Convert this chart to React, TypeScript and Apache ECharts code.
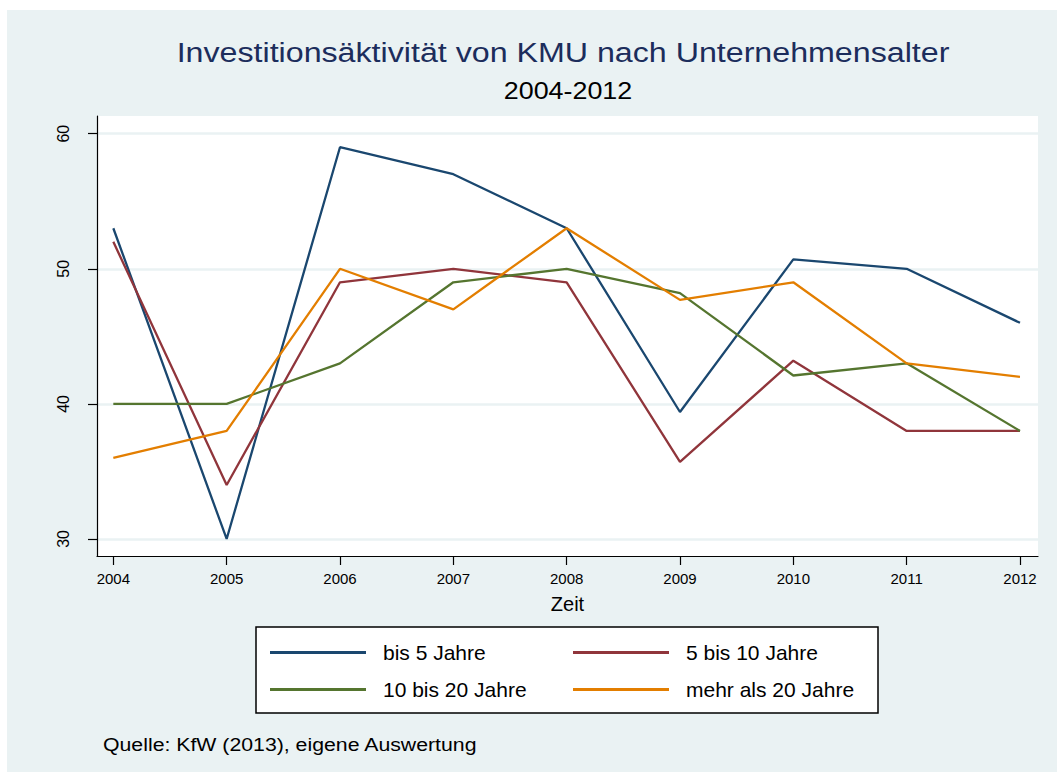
import React, { useEffect, useRef } from "react";
import * as echarts from "echarts";

const years = [2004, 2005, 2006, 2007, 2008, 2009, 2010, 2011, 2012];
const seriesNames = ["bis 5 Jahre", "5 bis 10 Jahre", "10 bis 20 Jahre", "mehr als 20 Jahre"];
const bis5 = [53, 30, 59, 57, 53, 39.4, 50.7, 50, 46];
const bis10 = [52, 34, 49, 50, 49, 35.7, 43.2, 38, 38];
const bis20 = [40, 40, 43, 49, 50, 48.2, 42.1, 43, 38];
const mehr20 = [36, 38, 50, 47, 53, 47.7, 49, 43, 42];
const yTicks = [30, 40, 50, 60];
const colors = ["#1a476f", "#90353b", "#55752f", "#e37e00"];

const FONT = "'Liberation Sans', Arial, sans-serif";

export default function App() {
  const ref = useRef<HTMLDivElement>(null);
  useEffect(() => {
    if (!ref.current) return;
    const chart = echarts.init(ref.current, null, { renderer: "svg" });
    const all = [bis5, bis10, bis20, mehr20];
    const legendBase = {
      orient: "vertical",
      top: 632,
      padding: 0,
      itemGap: 16,
      itemWidth: 96,
      itemHeight: 3,
      icon: "rect",
      textStyle: { fontSize: 21, color: "#000", fontFamily: FONT, padding: [0, 0, 0, 12] },
    };
    chart.setOption({
      animation: false,
      backgroundColor: "#eaf2f3",
      textStyle: { fontFamily: FONT },
      grid: {
        left: 90,
        top: 106,
        right: 19,
        bottom: 216,
        show: true,
        backgroundColor: "#ffffff",
        borderWidth: 0,
      },
      xAxis: {
        type: "value",
        min: 2003.856,
        max: 2012.159,
        name: "Zeit",
        nameLocation: "middle",
        nameGap: 38,
        nameTextStyle: { fontSize: 20, color: "#000", fontFamily: FONT },
        axisLine: { show: true, onZero: false, lineStyle: { color: "#000", width: 1.2 } },
        axisTick: { show: true, length: 9, customValues: years, lineStyle: { color: "#000", width: 1.2 } },
        axisLabel: {
          customValues: years,
          fontSize: 15,
          color: "#000",
          margin: 15,
          fontFamily: FONT,
          formatter: (v: number) => String(Math.round(v)),
        },
        splitLine: { show: false },
      },
      yAxis: {
        type: "value",
        min: 28.74,
        max: 61.31,
        axisLine: { show: true, lineStyle: { color: "#000", width: 1.2 } },
        axisTick: { show: true, length: 9, customValues: yTicks, lineStyle: { color: "#000", width: 1.2 } },
        axisLabel: { customValues: yTicks, fontSize: 16, color: "#000", rotate: 90, margin: 26, fontFamily: FONT },
        splitLine: { show: true, lineStyle: { color: "#eaf2f3", width: 2.5 } },
      },
      legend: [
        { ...legendBase, data: [seriesNames[0], seriesNames[2]], left: 263 },
        { ...legendBase, data: [seriesNames[1], seriesNames[3]], left: 566 },
      ],
      graphic: [
        {
          type: "rect",
          shape: { x: 249, y: 617, width: 622, height: 86 },
          style: { fill: "#ffffff", stroke: "#000", lineWidth: 1.5 },
          z: -1,
        },
        {
          type: "text",
          x: 556,
          y: 42,
          scaleX: 1.15,
          style: {
            text: "Investitionsäktivität von KMU nach Unternehmensalter",
            fontSize: 28,
            fontFamily: FONT,
            fill: "#1c2d5c",
            align: "center",
            verticalAlign: "middle",
          },
        },
        {
          type: "text",
          x: 561,
          y: 81,
          scaleX: 1.12,
          style: {
            text: "2004-2012",
            fontSize: 24,
            fontFamily: FONT,
            fill: "#000",
            align: "center",
            verticalAlign: "middle",
          },
        },
        {
          type: "text",
          x: 96,
          y: 734,
          scaleX: 1.12,
          style: {
            text: "Quelle: KfW (2013), eigene Auswertung",
            fontSize: 19,
            fontFamily: FONT,
            fill: "#000",
            align: "left",
            verticalAlign: "middle",
          },
        },
      ],
      series: all.map((vals, i) => ({
        name: seriesNames[i],
        type: "line",
        data: years.map((y, j) => [y, vals[j]]),
        showSymbol: false,
        symbol: "none",
        color: colors[i],
        lineStyle: { color: colors[i], width: 2.3 },
        z: 2,
      })),
    });
    return () => chart.dispose();
  }, []);
  return (
    <div
      ref={ref}
      style={{ position: "absolute", left: 7, top: 10, width: 1050, height: 762 }}
    />
  );
}
